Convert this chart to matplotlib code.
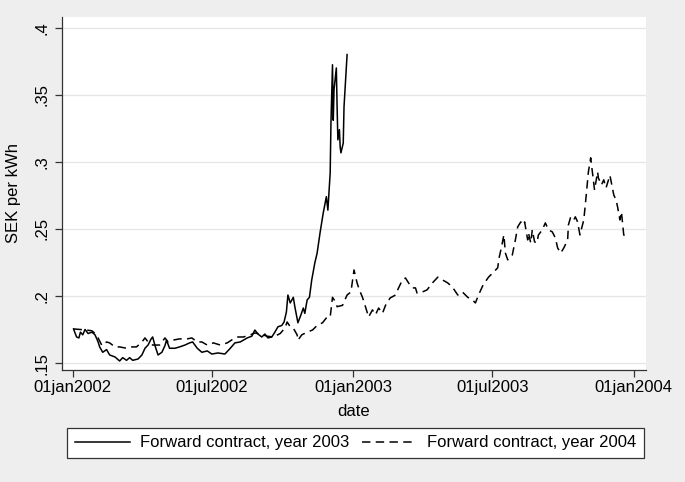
import pandas as pd
import matplotlib
matplotlib.use('Agg')
import matplotlib.pyplot as plt

plt.rcParams['font.family'] = ['Liberation Sans', 'DejaVu Sans']

# days since 01jan2002 and price (SEK per kWh)
days_2003 = [1, 5, 8, 10, 13, 16, 20, 25, 29, 33, 35, 39, 44, 48, 55, 61, 65, 70, 74, 78,
             85, 90, 94, 98, 102, 104, 107, 111, 116, 120, 122, 126, 133, 139, 146, 152, 156,
             162, 168, 175, 181, 189, 198, 205, 211, 218, 227, 233, 237, 241, 246, 250, 254,
             259, 263, 267, 272, 275, 278, 280, 283, 287, 289, 293, 297, 300, 302, 305, 308,
             311, 315, 318, 322, 326, 330, 332, 335, 336, 338, 339, 340, 343, 344, 345, 347,
             348, 349, 352, 353, 357]
price_2003 = [0.1754, 0.1694, 0.1687, 0.173, 0.171, 0.175, 0.172, 0.173, 0.171, 0.1657,
              0.162, 0.158, 0.160, 0.156, 0.1545, 0.1515, 0.154, 0.152, 0.154, 0.152,
              0.153, 0.156, 0.161, 0.1634, 0.168, 0.1694, 0.163, 0.156, 0.158, 0.163,
              0.167, 0.161, 0.161, 0.162, 0.1634, 0.165, 0.1657, 0.161, 0.158, 0.159,
              0.1567, 0.1575, 0.1567, 0.161, 0.165, 0.1657, 0.1687, 0.170, 0.1746, 0.1716,
              0.1694, 0.1716, 0.1687, 0.1694, 0.173, 0.177, 0.178, 0.1806, 0.188, 0.2007,
              0.1948, 0.199, 0.192, 0.180, 0.186, 0.191, 0.187, 0.197, 0.199, 0.212,
              0.2246, 0.232, 0.2478, 0.262, 0.274, 0.264, 0.2918, 0.329, 0.3724, 0.331,
              0.3537, 0.370, 0.341, 0.3164, 0.324, 0.311, 0.3067, 0.314, 0.341, 0.380]

days_2004 = [1, 18, 25, 29, 33, 38, 44, 48, 55, 61, 70, 77, 83, 90, 94, 98, 104, 113, 120,
             124, 130, 139, 149, 155, 162, 168, 175, 183, 192, 201, 209, 215, 222, 231, 237,
             244, 253, 261, 270, 276, 279, 283, 287, 292, 293, 298, 305, 312, 318, 325, 331,
             335, 338, 342, 344, 351, 357, 362, 366, 370, 373, 377, 381, 385, 390, 394, 398,
             403, 407, 413, 420, 424, 429, 433, 437, 442, 446, 448, 455, 461, 468, 475, 481,
             488, 494, 501, 507, 514, 520, 524, 528, 534, 541, 548, 553, 555, 558, 561, 563,
             566, 570, 572, 576, 579, 583, 587, 588, 592, 593, 596, 598, 601, 604, 606, 611,
             615, 619, 624, 628, 631, 635, 639, 644, 645, 648, 652, 654, 657, 660, 664, 665,
             667, 670, 671, 674, 677, 679, 683, 684, 688, 691, 694, 696, 699, 701, 704, 707,
             709, 712, 714, 716, 717, 722]
price_2004 = [0.1754, 0.1746, 0.174, 0.172, 0.1687, 0.163, 0.1657, 0.165, 0.162, 0.162,
              0.161, 0.162, 0.162, 0.1657, 0.1687, 0.1657, 0.1634, 0.1634, 0.1687, 0.1657,
              0.167, 0.168, 0.168, 0.1687, 0.1657, 0.1657, 0.1634, 0.165, 0.1634, 0.165,
              0.168, 0.1694, 0.1694, 0.171, 0.1724, 0.1716, 0.170, 0.1694, 0.172, 0.176,
              0.1806, 0.177, 0.176, 0.171, 0.167, 0.171, 0.173, 0.1746, 0.178, 0.180,
              0.1843, 0.1843, 0.199, 0.1955, 0.192, 0.193, 0.2007, 0.203, 0.2194, 0.2097,
              0.2045, 0.199, 0.1918, 0.1843, 0.1896, 0.186, 0.191, 0.187, 0.193, 0.1985,
              0.2007, 0.206, 0.212, 0.2134, 0.2097, 0.206, 0.206, 0.2022, 0.203, 0.2045,
              0.2097, 0.214, 0.212, 0.2097, 0.2067, 0.2007, 0.203, 0.199, 0.197, 0.1948,
              0.2007, 0.2082, 0.214, 0.218, 0.221, 0.229, 0.2366, 0.2455, 0.232, 0.2269,
              0.229, 0.2306, 0.2418, 0.2515, 0.2552, 0.253, 0.2552, 0.2418, 0.247, 0.2395,
              0.2493, 0.2403, 0.2395, 0.2455, 0.2493, 0.2545, 0.2493, 0.2478, 0.2433, 0.2358,
              0.232, 0.2358, 0.2418, 0.253, 0.259, 0.2567, 0.259, 0.2552, 0.2455, 0.2545,
              0.2567, 0.268, 0.2866, 0.2925, 0.303, 0.2888, 0.279, 0.2925, 0.288, 0.2828,
              0.2866, 0.2806, 0.2843, 0.290, 0.2843, 0.2754, 0.2716, 0.2664, 0.2567, 0.2627,
              0.2507, 0.2455, 0.2433]

x_ticks = ['2002-01-01', '2002-07-01', '2003-01-01', '2003-07-01', '2004-01-01']
x_labels = ['01jan2002', '01jul2002', '01jan2003', '01jul2003', '01jan2004']
y_ticks = [0.15, 0.2, 0.25, 0.3, 0.35, 0.4]
y_labels = ['.15', '.2', '.25', '.3', '.35', '.4']

start = pd.Timestamp('2002-01-01')
d2003 = start + pd.to_timedelta(days_2003, unit='D')
d2004 = start + pd.to_timedelta(days_2004, unit='D')

fig = plt.figure(figsize=(6.85, 4.82), dpi=100, facecolor='#eeeeee')
ax = fig.add_axes([0.0905, 0.2324, 0.8526, 0.7323])
ax.set_facecolor('white')

ax.plot(d2003, price_2003, color='black', lw=1.1, label='Forward contract, year 2003')
ax.plot(d2004, price_2004, color='black', lw=1.1, linestyle=(0, (5.5, 3.5)),
        label='Forward contract, year 2004')

ax.set_xlim(pd.Timestamp('2001-12-18'), pd.Timestamp('2004-01-17'))
ax.set_ylim(0.1448, 0.408)
ax.set_xticks(pd.to_datetime(x_ticks))
ax.set_xticklabels(x_labels, fontsize=12)
ax.set_yticks(y_ticks)
ax.set_yticklabels(y_labels, fontsize=12, rotation=90, va='center')
ax.tick_params(axis='both', length=5, width=0.9, color='#333333')
ax.tick_params(axis='x', pad=2)
ax.tick_params(axis='y', pad=4)
ax.grid(axis='y', color='#e6e6e6', lw=1)
ax.set_axisbelow(True)

for side in ['top', 'right']:
    ax.spines[side].set_visible(False)
for side in ['left', 'bottom']:
    ax.spines[side].set_color('#333333')
    ax.spines[side].set_linewidth(0.9)

ax.set_xlabel('date', fontsize=12)
ax.set_ylabel('SEK per kWh', fontsize=12)
ax.xaxis.set_label_coords(0.5, -0.095)
ax.yaxis.set_label_coords(-0.071, 0.5)

leg = fig.legend(loc='center', bbox_to_anchor=(0.519, 0.081), ncol=2, fontsize=12,
                 frameon=True, fancybox=False, edgecolor='#333333', framealpha=1,
                 handlelength=3.3, handletextpad=0.6, columnspacing=0.8,
                 borderpad=0.45, borderaxespad=0)
leg.get_frame().set_linewidth(0.9)

fig.savefig('out.png', dpi=100, facecolor=fig.get_facecolor())
